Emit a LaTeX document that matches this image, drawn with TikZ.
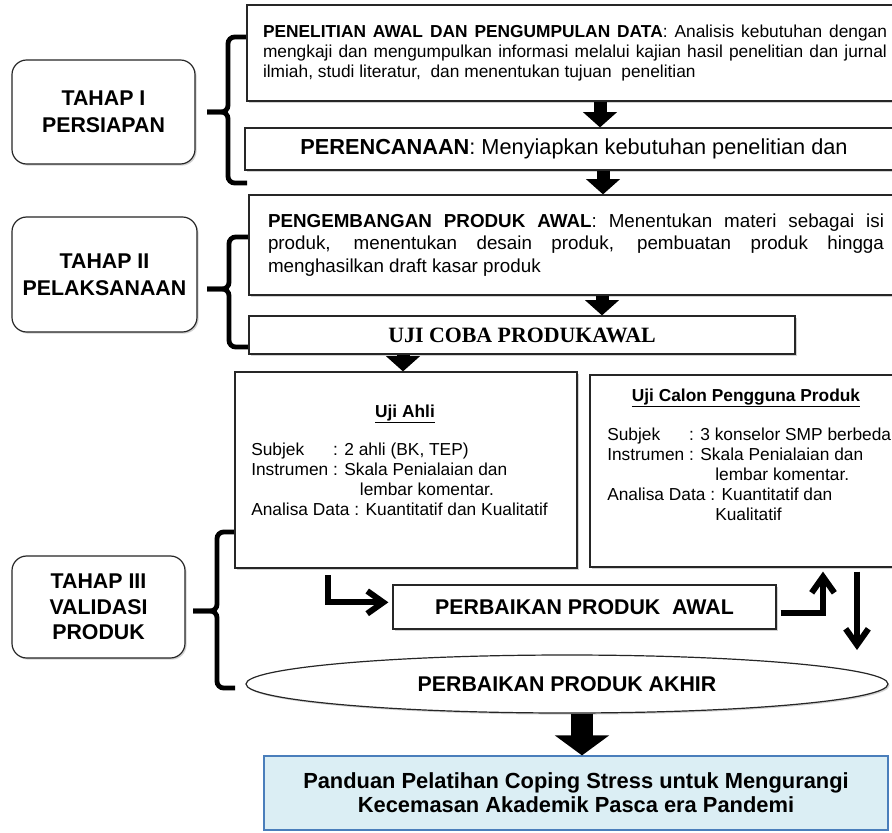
\documentclass[tikz,border=0pt]{standalone}
\usepackage{fontspec}
\setmainfont{Liberation Sans}
\newfontfamily\timesfont{Liberation Serif}
\usetikzlibrary{arrows.meta,shapes.geometric,shadows}
\hyphenpenalty=10000
\exhyphenpenalty=10000
\tikzset{
  box/.style={draw=black!85, line width=0.9pt, fill=white, inner sep=0pt,
    drop shadow={shadow xshift=1.2pt, shadow yshift=-1.2pt, opacity=0.35}},
  stage/.style={box, rounded corners=11pt, align=center,
    font=\fontsize{16}{20.5}\selectfont\bfseries},
  brace/.style={line width=3.6pt, rounded corners=5pt},
  blk/.style={line width=9.75pt, -{Triangle[width=25pt,length=11.5pt]}},
  bigblk/.style={line width=17pt, -{Triangle[width=40pt,length=15pt]}},
  thk/.style={line width=4.5pt, -{Straight Barb[length=12pt,width=17pt]}},
  listtxt/.style={anchor=north west, align=left, inner sep=0pt,
    font=\fontsize{13}{15}\selectfont},
}
\begin{document}
\begin{tikzpicture}[x=0.75pt,y=-0.75pt]
\useasboundingbox (0,0) rectangle (892,832);
\clip (0,0) rectangle (892,832);
\fill[white] (0,0) rectangle (892,832);

% stage boxes
\node[stage, minimum width=137.25pt, minimum height=78pt] (s1) at (103.5,112) {TAHAP I\\PERSIAPAN};
\node[stage, minimum width=138.75pt, minimum height=86.25pt] (s2) at (104.5,274.5) {TAHAP II\\PELAKSANAAN};
\node[stage, minimum width=129.75pt, minimum height=76.5pt, font=\fontsize{16}{19}\selectfont\bfseries] (s3) at (98.5,607) {TAHAP III\\VALIDASI\\PRODUK};

% braces
\draw[brace] (247,37) -- (228,37) -- (228,112) -- (207,112);
\draw[brace] (207,112) -- (228,112) -- (228,183) -- (247,183);
\draw[brace] (249,237) -- (229,237) -- (229,289) -- (207,289);
\draw[brace] (207,289) -- (229,289) -- (229,347) -- (249,347);
\draw[brace] (235,532) -- (217,532) -- (217,611) -- (193,611);
\draw[brace] (193,611) -- (217,611) -- (217,688) -- (235,688);

% main boxes
\node[box, minimum width=492pt, minimum height=72pt, text width=468pt, align=justify,
  font=\fontsize{13}{15}\selectfont] (b1) at (575,53)
  {\textbf{PENELITIAN AWAL DAN PENGUMPULAN DATA}: Analisis kebutuhan dengan mengkaji dan mengumpulkan informasi melalui kajian hasil penelitian dan jurnal ilmiah, studi literatur,\ \ dan menentukan tujuan\ \ penelitian};
\node[box, minimum width=493.5pt, minimum height=31.5pt,
  font=\fontsize{16.3}{19}\selectfont] (b2) at (574,149)
  {\textbf{PERENCANAAN}: Menyiapkan kebutuhan penelitian dan};
\node[box, minimum width=490.5pt, minimum height=75pt, text width=462pt, align=justify,
  font=\fontsize{14.1}{16.9}\selectfont] (b3) at (576,245)
  {\textbf{PENGEMBANGAN PRODUK AWAL}: Menentukan materi sebagai isi\linebreak produk, menentukan desain produk, pembuatan produk hingga\linebreak menghasilkan draft kasar produk};
\node[box, minimum width=409.5pt, minimum height=28.5pt,
  font=\timesfont\bfseries\fontsize{16.4}{19}\selectfont] (b4) at (522,335)
  {UJI COBA PRODUKAWAL};

\node[box, minimum width=256.5pt, minimum height=147pt] (ahli) at (406,470) {};
\node[box, minimum width=236.25pt, minimum height=144pt] (calon) at (747.5,471) {};

\node[anchor=base, inner sep=0pt, font=\fontsize{13}{15}\selectfont\bfseries] (ahlit) at (405,417) {\underline{Uji Ahli}};
\node[listtxt] (ahlil) at (251,443) {\rlap{Subjek}\hphantom{Instrumen} : 2 ahli (BK, TEP)\\
Instrumen : Skala Penialaian dan\\
\hspace*{81.5pt}lembar komentar.\\
Analisa Data : Kuantitatif dan Kualitatif};

\node[anchor=base, inner sep=0pt, font=\fontsize{13}{15}\selectfont\bfseries] (calont) at (746,401) {\underline{Uji Calon Pengguna Produk}};
\node[listtxt] (calonl) at (607,428) {\rlap{Subjek}\hphantom{Instrumen} : 3 konselor SMP berbeda\\
Instrumen : Skala Penialaian dan\\
\hspace*{81pt}lembar komentar.\\
Analisa Data : Kuantitatif dan\\
\hspace*{81pt}Kualitatif};

\node[box, minimum width=287.25pt, minimum height=33pt,
  font=\fontsize{16}{19}\selectfont\bfseries] (pawal) at (584.5,607) {PERBAIKAN PRODUK\ \ AWAL};

\node[box, ellipse, minimum width=481.5pt, minimum height=43.5pt,
  font=\fontsize{16}{19}\selectfont\bfseries] (akhir) at (567,684) {PERBAIKAN PRODUK AKHIR};

\definecolor{finfill}{HTML}{DBEEF4}
\definecolor{finline}{HTML}{4A7EBB}
\node[draw=finline, line width=0.9pt, fill=finfill, minimum width=468pt, minimum height=55.5pt,
  align=center, font=\fontsize{16.4}{18}\selectfont\bfseries] (final) at (576,793)
  {Panduan Pelatihan Coping Stress untuk Mengurangi\\Kecemasan Akademik Pasca era Pandemi};

% connector coordinates
\coordinate (x1) at (600,0);
\coordinate (x2) at (603,0);
\coordinate (x3) at (602,0);
\coordinate (x4) at (403,0);
\coordinate (x5) at (582,0);
\coordinate (xl) at (328,0);
\coordinate (xu) at (823,0);
\coordinate (xd) at (857,0);
\coordinate (dend) at (857,650);

\draw[blk] (b1.south -| x1) -- (b2.north -| x1);
\draw[blk] (b2.south -| x2) -- (b3.north -| x2);
\draw[blk] (b3.south -| x3) -- (b4.north -| x3);
\draw[blk] (b4.south -| x4) -- (ahli.north -| x4);
\draw[bigblk] (akhir.south -| x5) -- (final.north -| x5);

\draw[thk, shorten <=5pt, shorten >=3pt] (ahli.south -| xl) |- ([yshift=3.5pt]pawal.west);
\draw[thk, shorten <=3pt, shorten >=3pt] ([yshift=-4.5pt]pawal.east) -| (calon.south -| xu);
\draw[thk, shorten <=3pt] (calon.south -| xd) -- (dend);
\end{tikzpicture}
\end{document}
